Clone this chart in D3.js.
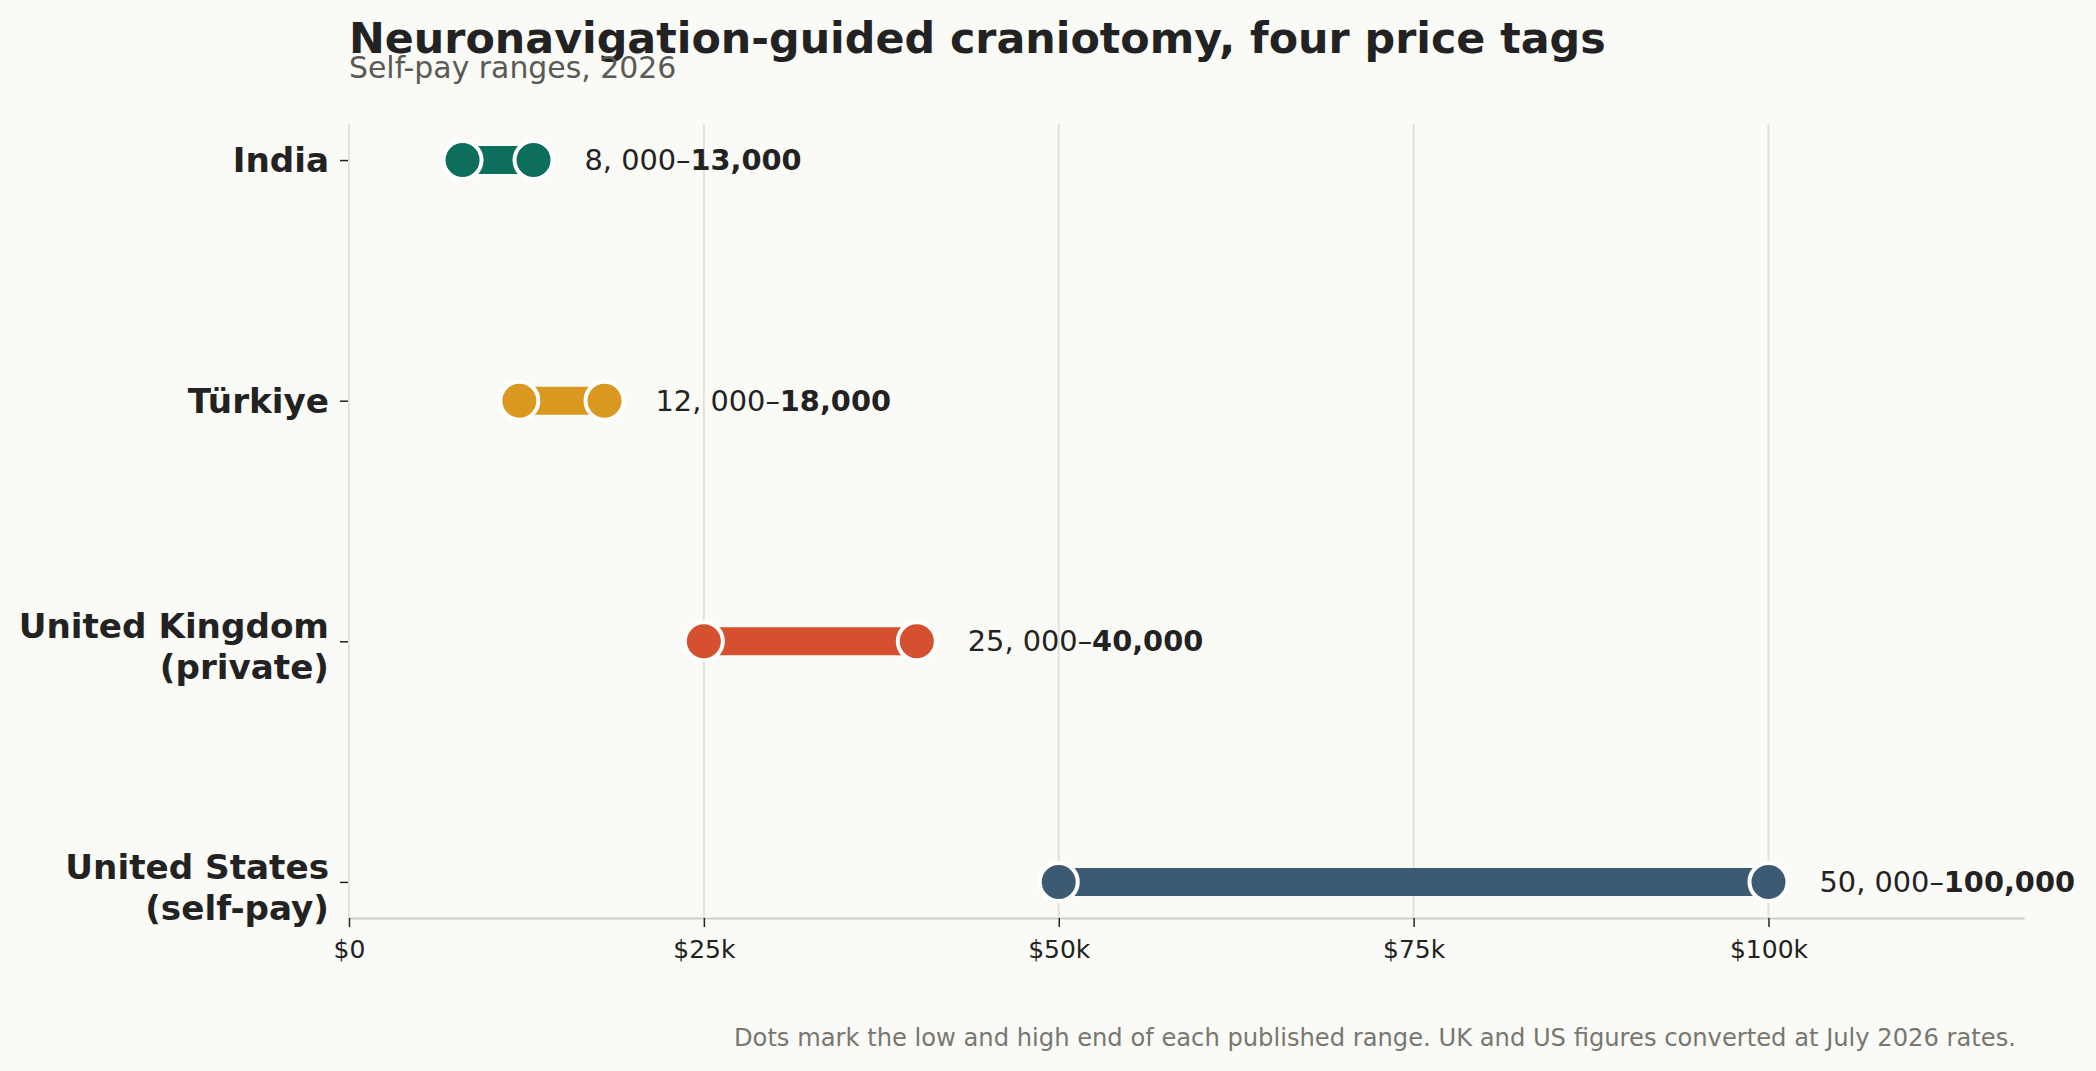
<!DOCTYPE html>
<html lang="en">
<head>
    <meta charset="UTF-8">
    <title>Neuronavigation-guided craniotomy</title>
    <script src="https://d3js.org/d3.v7.min.js"></script>
    <style>
        body {
            margin: 0;
            background: #fafaf6;
        }
        svg {
            display: block;
            font-family: "DejaVu Sans", sans-serif;
        }
    </style>
</head>
<body>
    <svg id="chart" width="2096" height="1071"></svg>
    <script>
        const countries = ["India", "Türkiye", "United Kingdom\n(private)", "United States\n(self-pay)"];
        const lowValues = [8000, 12000, 25000, 50000];
        const highValues = [13000, 18000, 40000, 100000];
        const xTickValues = [0, 25000, 50000, 75000, 100000];
        const xTickLabels = ["$0", "$25k", "$50k", "$75k", "$100k"];
        const palette = ["#0e6e5c", "#d9981f", "#d4502e", "#3d5a73"];

        const svg = d3.select("#chart");
        const width = +svg.attr("width");
        const height = +svg.attr("height");

        svg.append("rect").attr("width", width).attr("height", height).attr("fill", "#fafaf6");

        const plot = { left: 349, right: 2024, top: 124, bottom: 918 };

        const x = d3.scaleLinear()
            .domain([0, 118000])
            .range([plot.left, plot.right]);

        const y = d3.scalePoint()
            .domain(countries)
            .range([plot.top, plot.bottom])
            .padding(0.15);

        const color = d3.scaleOrdinal().domain(countries).range(palette);

        const data = countries.map((c, i) => ({ country: c, low: lowValues[i], high: highValues[i] }));

        // grid
        svg.append("g")
            .selectAll("line")
            .data(xTickValues)
            .enter().append("line")
            .attr("x1", d => x(d))
            .attr("x2", d => x(d))
            .attr("y1", plot.top)
            .attr("y2", plot.bottom)
            .attr("stroke", "#e2e2da")
            .attr("stroke-width", 2);

        // x axis
        const xAxis = svg.append("g")
            .attr("transform", `translate(0,${plot.bottom})`)
            .call(d3.axisBottom(x)
                .tickValues(xTickValues)
                .tickFormat((d, i) => xTickLabels[i])
                .tickSize(9)
                .tickSizeOuter(0)
                .tickPadding(13));
        xAxis.select(".domain").attr("stroke", "#cfcfc5").attr("stroke-width", 2);
        xAxis.selectAll(".tick line").attr("stroke", "#222").attr("stroke-width", 1.5);
        xAxis.selectAll(".tick text")
            .attr("fill", "#222")
            .style("font-size", "25px")
            .style("font-family", "DejaVu Sans");

        // y axis
        const yAxis = svg.append("g")
            .attr("transform", `translate(${plot.left - 1},0)`)
            .call(d3.axisLeft(y).tickSize(8).tickFormat(""));
        yAxis.select(".domain").remove();
        yAxis.selectAll(".tick line").attr("stroke", "#222").attr("stroke-width", 1.5);

        const yLabels = svg.append("g")
            .selectAll("text")
            .data(countries)
            .enter().append("text")
            .attr("x", 329)
            .attr("y", d => y(d))
            .attr("text-anchor", "end")
            .attr("fill", "#222")
            .style("font-size", "34.2px")
            .style("font-weight", "bold");
        yLabels.each(function (d) {
            const lines = d.split("\n");
            const t = d3.select(this);
            lines.forEach((line, i) => {
                t.append("tspan")
                    .attr("x", 329)
                    .attr("dy", i === 0 ? (lines.length === 1 ? 12 : -3) : 41)
                    .text(line);
            });
        });

        // range bars
        const rows = svg.append("g")
            .selectAll("g")
            .data(data)
            .enter().append("g");

        rows.append("line")
            .attr("x1", d => x(d.low))
            .attr("x2", d => x(d.high))
            .attr("y1", d => y(d.country))
            .attr("y2", d => y(d.country))
            .attr("stroke", d => color(d.country))
            .attr("stroke-width", 28);

        rows.selectAll("circle")
            .data(d => [{ v: d.low, c: d.country }, { v: d.high, c: d.country }])
            .enter().append("circle")
            .attr("cx", d => x(d.v))
            .attr("cy", d => y(d.c))
            .attr("r", 19)
            .attr("fill", d => color(d.c))
            .attr("stroke", "#ffffff")
            .attr("stroke-width", 4);

        const fmt = d3.format(",");
        const labels = rows.append("text")
            .attr("x", d => x(d.high) + 51)
            .attr("y", d => y(d.country) + 10)
            .attr("fill", "#222")
            .style("font-size", "28.8px");
        labels.append("tspan").text(d => fmt(d.low).replace(/,/g, ", ") + "–");
        labels.append("tspan").style("font-weight", "bold").text(d => fmt(d.high));

        // titles
        svg.append("text")
            .attr("x", 349)
            .attr("y", 53)
            .attr("fill", "#222")
            .style("font-size", "42.8px")
            .style("font-weight", "bold")
            .text("Neuronavigation-guided craniotomy, four price tags");

        svg.append("text")
            .attr("x", 349)
            .attr("y", 78)
            .attr("fill", "#5a5a55")
            .style("font-size", "29.9px")
            .text("Self-pay ranges, 2026");

        svg.append("text")
            .attr("x", 2016)
            .attr("y", 1046)
            .attr("text-anchor", "end")
            .attr("fill", "#77776f")
            .style("font-size", "24.2px")
            .text("Dots mark the low and high end of each published range. UK and US figures converted at July 2026 rates.");
    </script>
</body>
</html>
